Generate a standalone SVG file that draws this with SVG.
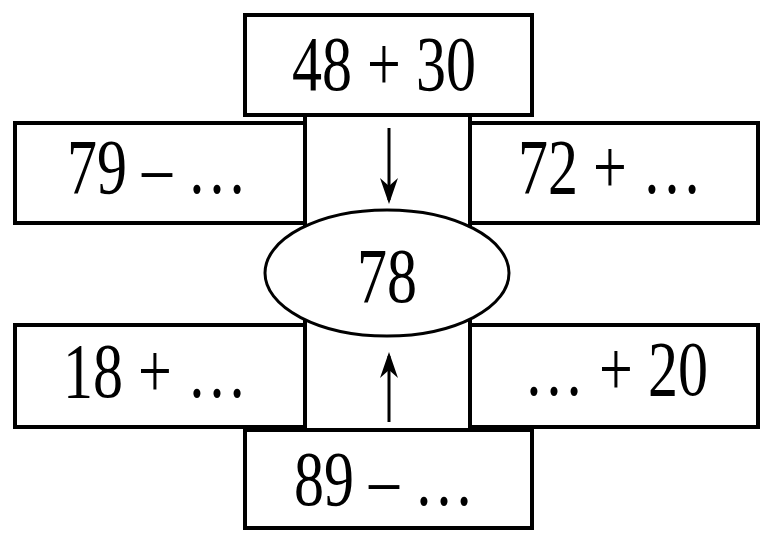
<svg xmlns="http://www.w3.org/2000/svg" width="761" height="535" viewBox="0 0 761 535">
<style>
.box{fill:#fff;stroke:#000;stroke-width:4}
.ln{stroke:#000;stroke-width:4;fill:none}
.t{font-family:"Liberation Serif","Times New Roman",serif;font-size:60px;fill:#000;text-anchor:middle}
.arr{stroke:#000;stroke-width:3;fill:none}
</style>
<defs>
<marker id="ah" viewBox="0 0 10 10" refX="9" refY="5" markerWidth="7" markerHeight="7" markerUnits="userSpaceOnUse" orient="auto">
<path d="M0,0 L10,5 L0,10 L3,5 Z" fill="#000"/>
</marker>
</defs>
<rect width="761" height="535" fill="#fff"/>
<g id="connectors">
<line class="ln" x1="305" y1="115" x2="305" y2="430"/>
<line class="ln" x1="470" y1="115" x2="470" y2="430"/>
<path class="arr" d="M389,128 L389,200"/>
<path d="M389,204 L380,178 L389,186 L398,178 Z" fill="#000"/>
<path class="arr" d="M389,422 L389,356"/>
<path d="M389,352 L380,378 L389,370 L398,378 Z" fill="#000"/>
</g>
<g id="n-top">
<rect class="box" x="245" y="15" width="287" height="100"/>
<text class="t" transform="translate(384,90) scale(1,1.3)">48 + 30</text>
</g>
<g id="n-left">
<rect class="box" x="15" y="123" width="290" height="100"/>
<text class="t" transform="translate(157,193) scale(1,1.3)">79 – …</text>
</g>
<g id="n-right">
<rect class="box" x="470" y="123" width="288" height="100"/>
<text class="t" transform="translate(610,193) scale(1,1.3)">72 + …</text>
</g>
<g id="n-center">
<ellipse cx="387" cy="273" rx="122" ry="63" fill="#fff" stroke="#000" stroke-width="3"/>
<text class="t" transform="translate(387,302) scale(1,1.3)">78</text>
</g>
<g id="n-lowleft">
<rect class="box" x="15" y="325" width="290" height="102"/>
<text class="t" transform="translate(155,397) scale(1,1.3)">18 + …</text>
</g>
<g id="n-lowright">
<rect class="box" x="470" y="325" width="288" height="102"/>
<text class="t" transform="translate(616,395) scale(1,1.3)">… + 20</text>
</g>
<g id="n-bottom">
<rect class="box" x="245" y="430" width="287" height="98"/>
<text class="t" transform="translate(384,505) scale(1,1.3)">89 – …</text>
</g>
</svg>
